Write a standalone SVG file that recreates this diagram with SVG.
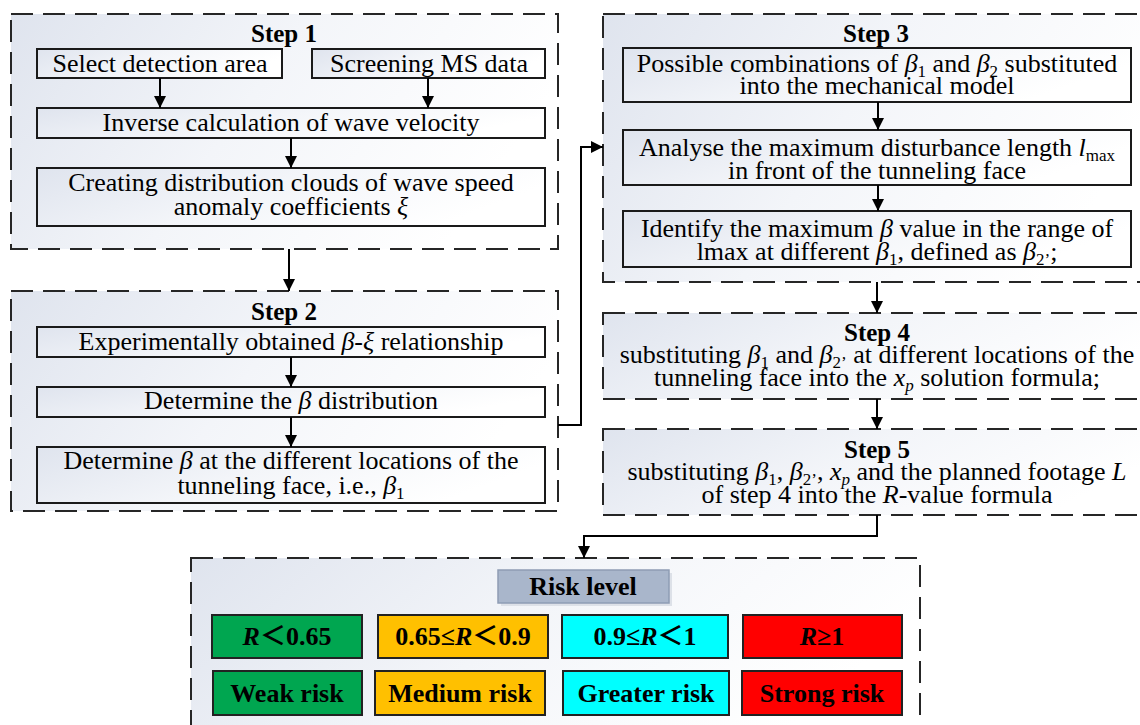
<svg xmlns="http://www.w3.org/2000/svg" width="1140" height="725" viewBox="0 0 1140 725">
<style>
text{font-family:"Liberation Serif","Times New Roman","Noto Sans CJK SC",serif;fill:#000}
.t{font-size:26px;text-anchor:middle}
.h{font-size:25px;font-weight:bold;text-anchor:middle}
.b{font-size:26px;font-weight:bold;text-anchor:middle}
.i{font-style:italic}
.s{font-size:17px}
.dash{fill:url(#g);stroke:#262626;stroke-width:2;stroke-dasharray:22 10}
.box{fill:url(#g);stroke:#1a1a1a;stroke-width:2}
.c{fill:none;stroke:#000;stroke-width:2;marker-end:url(#a)}
.rk{stroke:#222;stroke-width:2}
</style>
<defs>
<linearGradient id="g" x1="0" y1="0" x2="1" y2="0.3">
<stop offset="0" stop-color="#dfe4ee"/>
<stop offset="0.5" stop-color="#f3f5f9"/>
<stop offset="1" stop-color="#ffffff"/>
</linearGradient>
<marker id="a" markerUnits="userSpaceOnUse" markerWidth="12" markerHeight="12" refX="12" refY="6" orient="auto">
<path d="M0,0 L12,6 L0,12 z" fill="#000"/>
</marker>
</defs>
<rect width="1140" height="725" fill="#fff"/>

<g id="step1">
<rect class="dash" x="11" y="14" width="547" height="235"/>
<text class="h" x="284" y="42">Step 1</text>
<rect class="box" x="37" y="49" width="245" height="29"/>
<text class="t" x="160" y="72">Select detection area</text>
<rect class="box" x="312" y="49" width="233" height="29"/>
<text class="t" x="429" y="72">Screening MS data</text>
<rect class="box" x="37" y="108" width="508" height="30"/>
<text class="t" x="291" y="131">Inverse calculation of wave velocity</text>
<rect class="box" x="37" y="168" width="508" height="58"/>
<text class="t" x="291" y="191">Creating distribution clouds of wave speed</text>
<text class="t" x="291" y="215">anomaly coefficients <tspan class="i">ξ</tspan></text>
</g>

<g id="step2">
<rect class="dash" x="11" y="291" width="547" height="220"/>
<text class="h" x="284" y="320">Step 2</text>
<rect class="box" x="37" y="327" width="508" height="30"/>
<text class="t" x="291" y="350">Experimentally obtained <tspan class="i">β</tspan>-<tspan class="i">ξ</tspan> relationship</text>
<rect class="box" x="37" y="387" width="508" height="30"/>
<text class="t" x="291" y="409">Determine the <tspan class="i">β</tspan> distribution</text>
<rect class="box" x="37" y="447" width="508" height="56"/>
<text class="t" x="291" y="469">Determine <tspan class="i">β</tspan> at the different locations of the</text>
<text class="t" x="291" y="494">tunneling face, i.e., <tspan class="i">β</tspan><tspan class="s" dy="5">1</tspan></text>
</g>

<g id="step3">
<rect class="dash" x="603" y="14" width="560" height="268"/>
<text class="h" x="876" y="42">Step 3</text>
<rect class="box" x="623" y="48" width="508" height="54"/>
<text class="t" x="877" y="72">Possible combinations of <tspan class="i">β</tspan><tspan class="s" dy="5">1</tspan><tspan dy="-5"> and </tspan><tspan class="i">β</tspan><tspan class="s" dy="5">2</tspan><tspan dy="-5"> substituted</tspan></text>
<text class="t" x="877" y="94">into the mechanical model</text>
<rect class="box" x="623" y="130" width="508" height="55"/>
<text class="t" x="877" y="156">Analyse the maximum disturbance length <tspan class="i">l</tspan><tspan class="s" dy="5">max</tspan></text>
<text class="t" x="877" y="179">in front of the tunneling  face</text>
<rect class="box" x="623" y="211" width="508" height="56"/>
<text class="t" x="877" y="237">Identify the maximum <tspan class="i">β</tspan> value in the range of</text>
<text class="t" x="877" y="260">lmax at different <tspan class="i">β</tspan><tspan class="s" dy="5">1</tspan><tspan dy="-5">, defined as </tspan><tspan class="i">β</tspan><tspan class="s" dy="5">2’</tspan><tspan dy="-5">;</tspan></text>
</g>

<g id="step4">
<rect class="dash" x="603" y="313" width="560" height="86"/>
<text class="h" x="877" y="341">Step 4</text>
<text class="t" x="877" y="363">substituting <tspan class="i">β</tspan><tspan class="s" dy="5">1</tspan><tspan dy="-5"> and </tspan><tspan class="i">β</tspan><tspan class="s" dy="5">2’</tspan><tspan dy="-5"> at different locations of the</tspan></text>
<text class="t" x="877" y="386">tunneling face into the <tspan class="i">x</tspan><tspan class="s i" dy="5">p</tspan><tspan dy="-5">  solution formula;</tspan></text>
</g>

<g id="step5">
<rect class="dash" x="603" y="429" width="560" height="86"/>
<text class="h" x="877" y="458">Step 5</text>
<text class="t" x="877" y="480">substituting <tspan class="i">β</tspan><tspan class="s" dy="5">1</tspan><tspan dy="-5">, </tspan><tspan class="i">β</tspan><tspan class="s" dy="5">2’</tspan><tspan dy="-5">, </tspan><tspan class="i">x</tspan><tspan class="s i" dy="5">p</tspan><tspan dy="-5"> and the planned footage </tspan><tspan class="i">L</tspan></text>
<text class="t" x="877" y="503">of step 4 into the <tspan class="i">R</tspan>-value formula</text>
</g>

<g id="risk">
<rect class="dash" x="191" y="558" width="729" height="190"/>
<rect x="501" y="573" width="171" height="33" fill="#dde1e8"/>
<rect x="498" y="570" width="171" height="33" fill="#a9b6cb" stroke="#8e9cb4" stroke-width="1.5"/>
<text class="b" x="583" y="595">Risk level</text>
<rect class="rk" x="212" y="615" width="150" height="43" fill="#00a650"/>
<text class="b" x="287" y="645"><tspan class="i">R</tspan>＜0.65</text>
<rect class="rk" x="378" y="615" width="170" height="43" fill="#ffc000"/>
<text class="b" x="463" y="645">0.65≤<tspan class="i">R</tspan>＜0.9</text>
<rect class="rk" x="562" y="615" width="166" height="43" fill="#00ffff"/>
<text class="b" x="645" y="645">0.9≤<tspan class="i">R</tspan>＜1</text>
<rect class="rk" x="743" y="615" width="159" height="43" fill="#ff0000"/>
<text class="b" x="822" y="645"><tspan class="i">R</tspan>≥1</text>
<rect class="rk" x="213" y="671" width="149" height="44" fill="#00a650"/>
<text class="b" x="287" y="702">Weak risk</text>
<rect class="rk" x="375" y="671" width="170" height="44" fill="#ffc000"/>
<text class="b" x="460" y="702">Medium risk</text>
<rect class="rk" x="563" y="671" width="166" height="44" fill="#00ffff"/>
<text class="b" x="646" y="702">Greater risk</text>
<rect class="rk" x="742" y="671" width="160" height="44" fill="#ff0000"/>
<text class="b" x="822" y="702">Strong risk</text>
</g>

<g id="connectors">
<path class="c" d="M160,78 V108"/>
<path class="c" d="M428,78 V108"/>
<path class="c" d="M291,138 V168"/>
<path class="c" d="M289,249 V291"/>
<path class="c" d="M291,357 V387"/>
<path class="c" d="M291,417 V447"/>
<path class="c" d="M558,425 H581 V147 H603"/>
<path class="c" d="M878,102 V130"/>
<path class="c" d="M878,185 V211"/>
<path class="c" d="M877,282 V313"/>
<path class="c" d="M877,399 V429"/>
<path class="c" d="M877,515 V536 H584 V558"/>
</g>
</svg>
